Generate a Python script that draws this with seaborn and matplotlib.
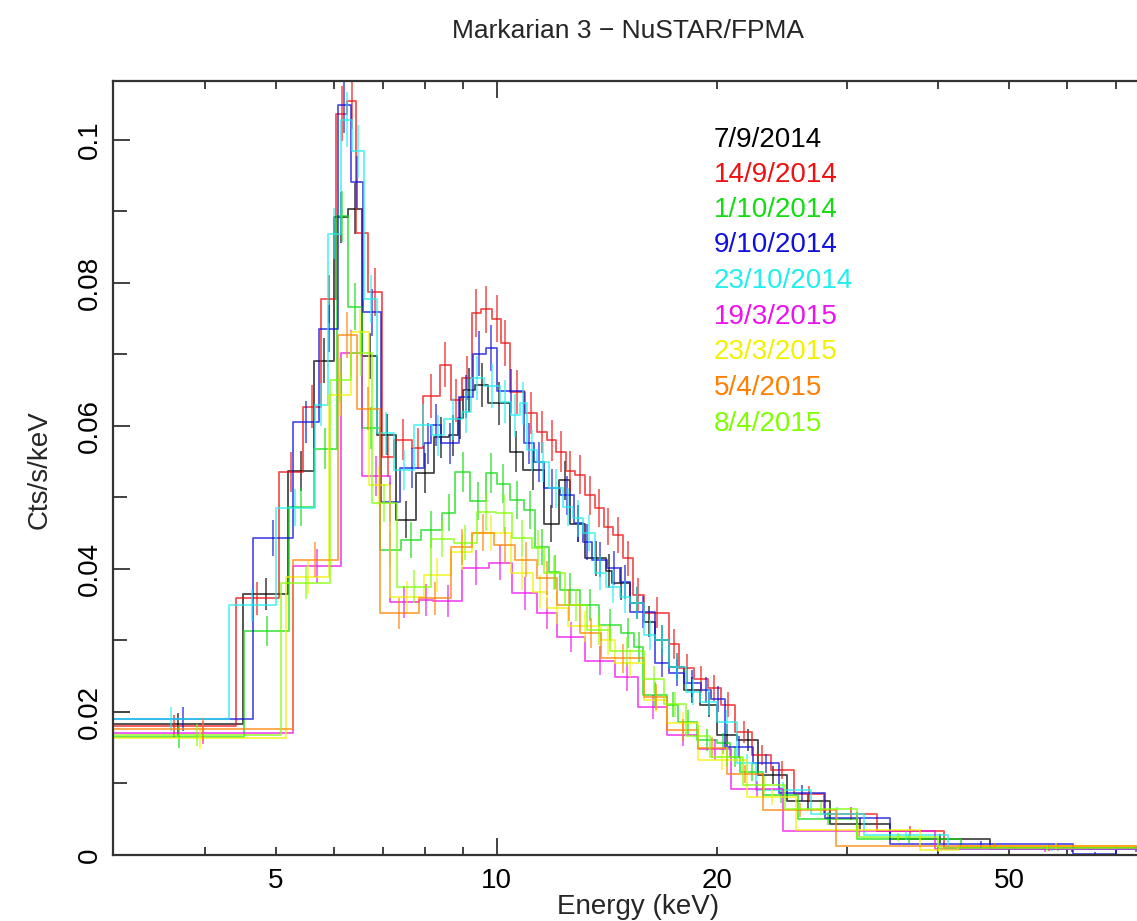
import numpy as np
import pandas as pd
import matplotlib
matplotlib.use("Agg")
import matplotlib.pyplot as plt
import matplotlib.ticker as mticker
import seaborn as sns

# ---------------- data (keV bin edges, counts/s/keV) ----------------
dates = ["7/9/2014", "14/9/2014", "1/10/2014", "9/10/2014", "23/10/2014",
         "19/3/2015", "23/3/2015", "5/4/2015", "8/4/2015"]
colors = ["#000000", "#ee1111", "#11dd11", "#1111dd", "#22eeee",
          "#ee11ee", "#f2f200", "#ff8000", "#80ff00"]

edges_0709 = [3, 4.51, 5.20, 5.63, 6.01, 6.28, 6.56, 6.88, 7.29, 7.77, 8.21, 8.61, 8.86, 9.0,
              9.36, 9.73, 10.42, 10.87, 11.6, 12.16, 12.6, 13.2, 14.1, 14.37, 15.22, 15.87,
              16.46, 17.2, 18.0, 18.96, 19.98, 21.27, 22.75, 24.87, 28.5, 34.4, 47.0, 79]
rate_0709 = [0.0183, 0.0365, 0.0537, 0.0691, 0.0892, 0.0904, 0.0698, 0.0588, 0.0469, 0.0534,
             0.0584, 0.0587, 0.0611, 0.0650, 0.0658, 0.0632, 0.0564, 0.0538, 0.0463, 0.0524,
             0.0463, 0.0415, 0.0397, 0.0380, 0.0352, 0.0326, 0.0301, 0.0263, 0.0231, 0.0210,
             0.0168, 0.0161, 0.0112, 0.0075, 0.0044, 0.0023, 0.0008]

edges_1409 = [3, 4.41, 5.05, 5.44, 5.76, 6.05, 6.26, 6.44, 6.69, 6.98, 7.25, 7.68, 7.94, 8.37,
              8.66, 8.98, 9.27, 9.51, 9.87, 10.13, 10.42, 10.92, 11.36, 11.72, 12.07, 12.42,
              12.8, 13.2, 13.6, 14.0, 14.4, 14.87, 15.35, 15.87, 17.2, 17.75, 18.6, 19.4, 20.2,
              21.16, 22.3, 23.7, 25.4, 27.98, 33.0, 40.7, 79]
rate_1409 = [0.0180, 0.0359, 0.0536, 0.0627, 0.0778, 0.1037, 0.1055, 0.0870, 0.0787, 0.0557,
             0.0581, 0.0569, 0.0642, 0.0686, 0.0636, 0.0667, 0.0758, 0.0763, 0.0750, 0.0716,
             0.0648, 0.0618, 0.0592, 0.0580, 0.0564, 0.0537, 0.0532, 0.0503, 0.0485, 0.0459,
             0.0448, 0.0415, 0.0364, 0.0339, 0.0295, 0.0262, 0.0246, 0.0233, 0.0210, 0.0172,
             0.0140, 0.0119, 0.0085, 0.0058, 0.0034, 0.0010]

edges_0110 = [3, 4.53, 5.22, 5.63, 6.06, 6.27, 6.55, 6.93, 7.4, 7.88, 8.43, 8.79, 9.2, 9.66,
              10.02, 10.42, 10.9, 11.3, 11.78, 12.22, 13.0, 13.8, 14.8, 15.4, 15.86, 17.1, 17.7,
              18.77, 19.98, 20.8, 21.5, 23.1, 25.8, 31.0, 43.0, 79]
rate_0110 = [0.01655, 0.0313, 0.0487, 0.0568, 0.0893, 0.0767, 0.0597, 0.0427, 0.0441, 0.0455,
             0.0479, 0.0536, 0.0495, 0.0534, 0.0519, 0.0497, 0.0483, 0.0431, 0.0396, 0.0371,
             0.0350, 0.0322, 0.0310, 0.0291, 0.0224, 0.0210, 0.0186, 0.0161, 0.0156, 0.0137,
             0.0116, 0.0084, 0.0051, 0.0022, 0.0010]

edges_0910 = [3, 4.65, 5.28, 5.73, 6.08, 6.33, 6.58, 6.95, 7.39, 7.96, 8.15, 8.39, 8.88, 9.3,
              9.66, 10.02, 10.9, 11.24, 11.6, 12.22, 12.74, 13.1, 13.5, 14.15, 14.75, 15.2,
              16.46, 17.2, 18.0, 19.0, 19.6, 20.5, 22.4, 24.3, 28.0, 34.4, 61, 70, 79]
rate_0910 = [0.0190, 0.0443, 0.0606, 0.0736, 0.1049, 0.0941, 0.0759, 0.0493, 0.0541, 0.0576,
             0.0602, 0.0576, 0.0641, 0.0701, 0.0709, 0.0649, 0.0576, 0.0550, 0.0513, 0.0503,
             0.0464, 0.0438, 0.0413, 0.0401, 0.0382, 0.0340, 0.0268, 0.0255, 0.0240, 0.0231,
             0.0218, 0.0151, 0.0128, 0.0087, 0.0052, 0.0015, 0.0002, 0.0008]

edges_2310 = [3, 4.32, 5.0, 5.65, 5.89, 6.13, 6.36, 6.60, 6.88, 7.25, 7.72, 8.17, 8.47, 8.98,
              9.22, 9.6, 10.1, 10.45, 10.75, 11.0, 11.36, 11.8, 12.3, 12.7, 13.1, 13.6, 14.1,
              14.75, 15.2, 15.9, 16.46, 17.2, 18.1, 18.96, 19.98, 21.3, 22.6, 26.8, 31.7, 41.3, 79]
rate_2310 = [0.0190, 0.0350, 0.0486, 0.0630, 0.0869, 0.1028, 0.0984, 0.0778, 0.0590, 0.0538,
             0.0602, 0.0587, 0.0610, 0.0620, 0.0667, 0.0656, 0.0634, 0.0615, 0.0632, 0.0566,
             0.0550, 0.0513, 0.0487, 0.0471, 0.0450, 0.0394, 0.0375, 0.0361, 0.0353, 0.0308,
             0.0301, 0.0263, 0.0228, 0.0214, 0.0186, 0.0128, 0.0091, 0.0058, 0.0028, 0.0009]

edges_1903 = [3, 5.28, 6.13, 6.55, 7.15, 7.84, 8.2, 8.98, 9.76, 10.5, 11.36, 12.1, 13.2, 14.5,
              15.6, 17.1, 18.8, 20.9, 24.55, 39.6, 79]
rate_1903 = [0.01713, 0.0404, 0.0702, 0.0530, 0.0354, 0.0357, 0.0355, 0.0402, 0.0409, 0.0366,
             0.0338, 0.0305, 0.0272, 0.0249, 0.0207, 0.0168, 0.0148, 0.0092, 0.0033, 0.0008]

edges_2303 = [3, 5.17, 5.91, 6.33, 6.7, 7.15, 7.96, 8.66, 9.27, 10.45, 11.2, 11.72, 12.5, 13.9,
              14.5, 15.9, 17.1, 18.8, 21.96, 25.6, 37.8, 42.5, 79]
rate_2303 = [0.0163, 0.0389, 0.0644, 0.0731, 0.0517, 0.0361, 0.0392, 0.0424, 0.0450, 0.0394,
             0.0368, 0.0345, 0.0320, 0.0301, 0.0269, 0.0217, 0.0184, 0.0133, 0.0081, 0.0035,
             0.0007, 0.0012]

edges_0504 = [3, 5.28, 6.07, 6.45, 6.93, 7.84, 8.66, 9.27, 9.92, 10.61, 11.36, 12.1, 13.0, 13.9,
              15.9, 17.1, 18.8, 20.6, 23.1, 29.0, 79]
rate_0504 = [0.01757, 0.0413, 0.0727, 0.0624, 0.0338, 0.0359, 0.0431, 0.0451, 0.0434, 0.0413,
             0.0387, 0.0350, 0.0310, 0.0275, 0.0221, 0.0175, 0.0150, 0.0113, 0.0063, 0.0012]

edges_0804 = [3, 5.09, 5.93, 6.33, 6.76, 7.31, 8.13, 8.74, 9.41, 9.97, 10.5, 11.18, 11.6, 12.4,
              13.3, 14.3, 15.9, 16.9, 18.1, 19.57, 21.7, 24.7, 31.0, 40.0, 79]
rate_0804 = [0.01678, 0.0381, 0.0664, 0.0702, 0.0492, 0.0375, 0.0442, 0.0437, 0.0480, 0.0478,
             0.0443, 0.0429, 0.0395, 0.0350, 0.0315, 0.0285, 0.0246, 0.0211, 0.0166, 0.0137,
             0.0098, 0.0065, 0.0025, 0.0010]

all_edges = [edges_0709, edges_1409, edges_0110, edges_0910, edges_2310,
             edges_1903, edges_2303, edges_0504, edges_0804]
all_rates = [rate_0709, rate_1409, rate_0110, rate_0910, rate_2310,
             rate_1903, rate_2303, rate_0504, rate_0804]
err_coef = 0.012  # 1-sigma error ~ coef * sqrt(rate)

x_tick_labels = {5: "5", 10: "10", 20: "20", 50: "50"}
y_ticks = [0, 0.02, 0.04, 0.06, 0.08, 0.1]
y_tick_labels = ["0", "0.02", "0.04", "0.06", "0.08", "0.1"]

# ---------------- figure ----------------
sns.set_theme(style="ticks")
plt.rcParams["font.family"] = ["Liberation Sans", "DejaVu Sans"]

W, H = 1137, 921
fig = plt.figure(figsize=(W / 100, H / 100), dpi=100)
ax = fig.add_axes([113 / W, 66 / H, (1155 - 113) / W, (855 - 81) / H])

for lab, col, ed, rt in zip(dates, colors, all_edges, all_rates):
    ed = np.asarray(ed, float)
    rt = np.asarray(rt, float)
    df = pd.DataFrame({"E": ed, "rate": np.append(rt, rt[-1])})
    sns.lineplot(data=df, x="E", y="rate", drawstyle="steps-post", color=col,
                 lw=1.3, alpha=0.72, estimator=None, sort=False, ax=ax, legend=False)
    ctr = np.sqrt(ed[:-1] * ed[1:])
    err = err_coef * np.sqrt(rt)
    ax.vlines(ctr, rt - err, rt + err, color=col, lw=1.3, alpha=0.65)

ax.set_xscale("log")
ax.set_xlim(3, 79)
ax.set_ylim(0, 0.10825)
ax.set_xlabel("")
ax.set_ylabel("")

# x ticks: long tick at decade, short ones elsewhere
ax.xaxis.set_major_locator(mticker.FixedLocator([10]))
ax.xaxis.set_major_formatter(mticker.FixedFormatter(["10"]))
minor_x = [4, 5, 6, 7, 8, 9, 20, 30, 40, 50, 60, 70]
ax.xaxis.set_minor_locator(mticker.FixedLocator(minor_x))
ax.xaxis.set_minor_formatter(mticker.FuncFormatter(
    lambda v, p: x_tick_labels.get(int(round(v)), "") if abs(v - round(v)) < 1e-6 else ""))
ax.tick_params(axis="x", which="major", direction="in", length=12, width=1.3,
               top=True, bottom=True, labelsize=20, pad=9, colors="#333333", labelcolor="black")
ax.tick_params(axis="x", which="minor", direction="in", length=6, width=1.3,
               top=True, bottom=True, labelsize=20, pad=9, colors="#333333", labelcolor="black")

ax.set_yticks(y_ticks)
ax.set_yticklabels(y_tick_labels, rotation=90, va="center")
ax.yaxis.set_minor_locator(mticker.MultipleLocator(0.01))
ax.tick_params(axis="y", which="major", direction="in", length=12, width=1.3,
               left=True, right=True, labelsize=20, pad=7, colors="#333333", labelcolor="black")
ax.tick_params(axis="y", which="minor", direction="in", length=10, width=1.3,
               left=True, right=True, colors="#333333")

for sp in ax.spines.values():
    sp.set_linewidth(1.6)
    sp.set_color("#333333")

# title and axis labels
fig.text(628 / W, 1 - 31 / H, "Markarian 3 \u2212 NuSTAR/FPMA", ha="center", va="center",
         fontsize=19)
fig.text(638 / W, 1 - 907 / H, "Energy (keV)", ha="center", va="center", fontsize=20)
fig.text(40 / W, 1 - 470 / H, "Cts/s/keV", ha="center", va="center", rotation=90, fontsize=20)

# legend-like labels
leg_y = [140, 175, 210, 245, 281, 317, 352, 388, 424]
for lab, col, yy in zip(dates, colors, leg_y):
    fig.text(714 / W, 1 - yy / H, lab, color=col, ha="left", va="center", fontsize=20)

fig.savefig("out.png", dpi=100)
